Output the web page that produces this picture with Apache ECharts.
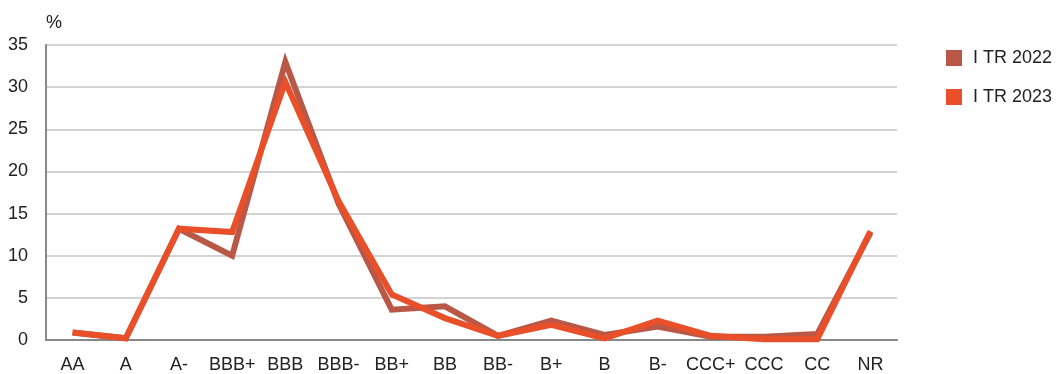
<!DOCTYPE html>
<html>
<head>
<meta charset="utf-8">
<script src="https://cdn.jsdelivr.net/npm/echarts@6/dist/echarts.min.js"></script>
<style>
  html, body { margin: 0; padding: 0; background: #fff; }
  #chart { width: 1056px; height: 374px; }
</style>
</head>
<body>
<div id="chart"></div>
<script>
// rating categories
const ratings = ["AA", "A", "A-", "BBB+", "BBB", "BBB-", "BB+", "BB", "BB-", "B+", "B", "B-", "CCC+", "CCC", "CC", "NR"];
// share of portfolio, %
const tr2022 = [0.9, 0.2, 13.2, 10.0, 33.0, 16.2, 3.6, 4.0, 0.5, 2.3, 0.6, 1.6, 0.4, 0.4, 0.7, 12.7];
const tr2023 = [0.9, 0.2, 13.2, 12.8, 30.6, 16.5, 5.4, 2.6, 0.5, 1.8, 0.2, 2.3, 0.5, 0.1, 0.1, 12.9];
const yTicks = [0, 5, 10, 15, 20, 25, 30, 35];

const chart = echarts.init(document.getElementById("chart"));
const font = "'Liberation Sans', Arial, sans-serif";

chart.setOption({
  animation: false,
  textStyle: { fontFamily: font },
  grid: { left: 46, right: 159, top: 45, bottom: 32 },
  legend: {
    orient: "vertical",
    left: 941,
    top: 44,
    itemWidth: 16,
    itemHeight: 16,
    itemGap: 21,
    icon: "rect",
    textStyle: { fontSize: 18, color: "#222", fontFamily: font, padding: [0, 0, 0, 6] },
    data: ["I TR 2022", "I TR 2023"]
  },
  xAxis: {
    type: "category",
    data: ratings,
    boundaryGap: true,
    axisLine: { lineStyle: { color: "#888", width: 2 } },
    axisTick: { inside: true, length: 5, lineStyle: { color: "#888", width: 1 } },
    axisLabel: { fontSize: 18, color: "#222", margin: 16, interval: 0 },
    splitLine: { show: false }
  },
  yAxis: {
    type: "value",
    min: yTicks[0],
    max: yTicks[yTicks.length - 1],
    interval: 5,
    name: "%",
    nameLocation: "end",
    nameGap: 13,
    nameTextStyle: { fontSize: 18, color: "#222", align: "left", padding: [0, 0, 0, 0] },
    axisLine: { show: true, lineStyle: { color: "#888", width: 2 } },
    axisTick: { show: false },
    axisLabel: { fontSize: 18, color: "#222", margin: 18 },
    splitLine: { lineStyle: { color: "#c4c4c4", width: 1.5 } }
  },
  series: [
    {
      name: "I TR 2022",
      type: "line",
      data: tr2022,
      showSymbol: false,
      symbol: "none",
      itemStyle: { color: "#b95846" },
      lineStyle: { color: "#b95846", width: 6, join: "miter" }
    },
    {
      name: "I TR 2023",
      type: "line",
      data: tr2023,
      showSymbol: false,
      symbol: "none",
      itemStyle: { color: "#e9502a" },
      lineStyle: { color: "#e9502a", width: 6, join: "miter" }
    }
  ]
});
</script>
</body>
</html>
